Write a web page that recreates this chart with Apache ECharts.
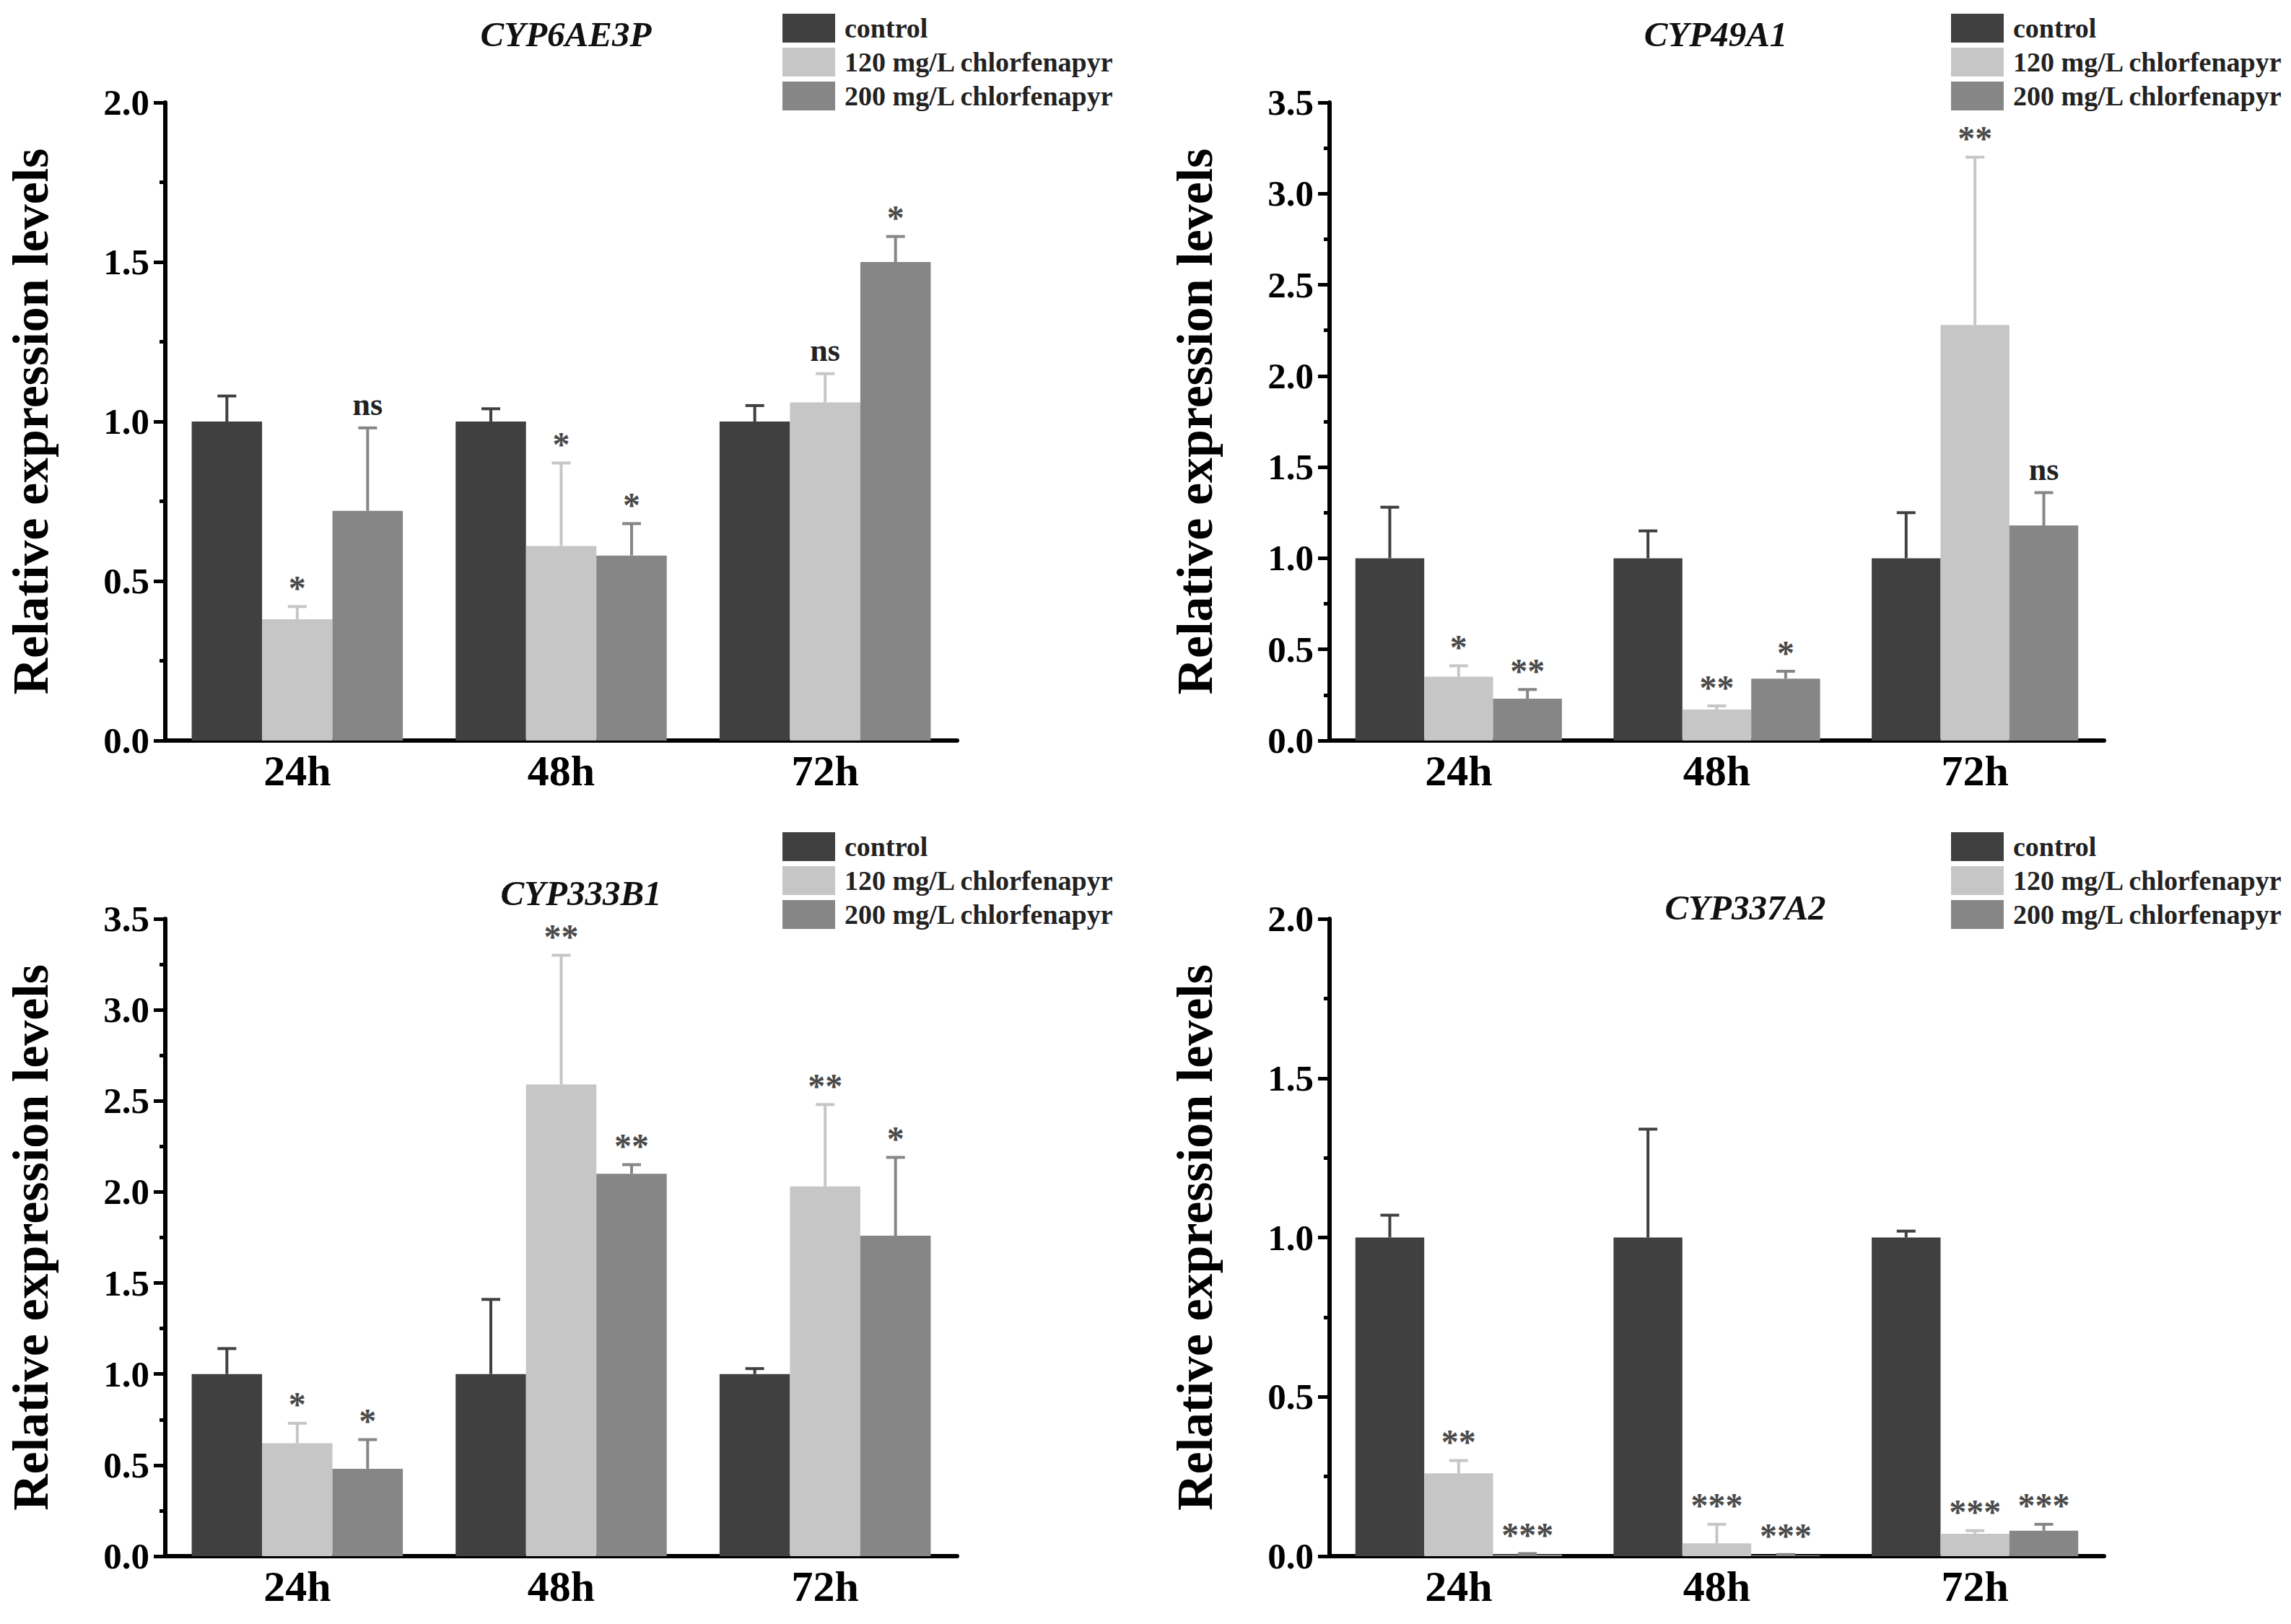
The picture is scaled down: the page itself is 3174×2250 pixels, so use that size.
<!DOCTYPE html>
<html>
<head>
<meta charset="utf-8">
<style>
html,body{margin:0;padding:0;background:#fff;}
#chart{width:3174px;height:2250px;}
</style>
<script src="https://cdn.jsdelivr.net/npm/echarts@6/dist/echarts.min.js"></script>
</head>
<body>
<div id="chart"></div>
<script>
const categories = ['24h', '48h', '72h'];
const seriesNames = ['control', '120 mg/L chlorfenapyr', '200 mg/L chlorfenapyr'];
const genes = ['CYP6AE3P', 'CYP49A1', 'CYP333B1', 'CYP337A2'];
const yMax = [2.0, 3.5, 3.5, 2.0];

// CYP6AE3P
const cyp6ae3pMean = [[1, 1, 1], [0.38, 0.61, 1.06], [0.72, 0.58, 1.50]];
const cyp6ae3pSd   = [[0.08, 0.04, 0.05], [0.04, 0.26, 0.09], [0.26, 0.10, 0.08]];
const cyp6ae3pSig  = [['', '', ''], ['*', '*', 'ns'], ['ns', '*', '*']];
// CYP49A1
const cyp49a1Mean = [[1, 1, 1], [0.35, 0.17, 2.28], [0.23, 0.34, 1.18]];
const cyp49a1Sd   = [[0.28, 0.15, 0.25], [0.06, 0.02, 0.92], [0.05, 0.04, 0.18]];
const cyp49a1Sig  = [['', '', ''], ['*', '**', '**'], ['**', '*', 'ns']];
// CYP333B1
const cyp333b1Mean = [[1, 1, 1], [0.62, 2.59, 2.03], [0.48, 2.10, 1.76]];
const cyp333b1Sd   = [[0.14, 0.41, 0.03], [0.11, 0.71, 0.45], [0.16, 0.05, 0.43]];
const cyp333b1Sig  = [['', '', ''], ['*', '**', '**'], ['*', '**', '*']];
// CYP337A2
const cyp337a2Mean = [[1, 1, 1], [0.26, 0.04, 0.07], [0.005, 0.003, 0.08]];
const cyp337a2Sd   = [[0.07, 0.34, 0.02], [0.04, 0.06, 0.01], [0.003, 0.002, 0.02]];
const cyp337a2Sig  = [['', '', ''], ['**', '***', '***'], ['***', '***', '***']];

const means = [cyp6ae3pMean, cyp49a1Mean, cyp333b1Mean, cyp337a2Mean];
const sds = [cyp6ae3pSd, cyp49a1Sd, cyp333b1Sd, cyp337a2Sd];
const sigs = [cyp6ae3pSig, cyp49a1Sig, cyp333b1Sig, cyp337a2Sig];

const colors = ['#404040', '#c6c6c6', '#868686'];
const FONT = '"Liberation Serif","Times New Roman",serif';

const grids = [
  {left: 229, top: 142, width: 1097, height: 884},
  {left: 1842, top: 142, width: 1073, height: 884},
  {left: 229, top: 1273, width: 1097, height: 883},
  {left: 1842, top: 1273, width: 1073, height: 883}
];
const titlePos = [[779, 18], [2372, 18], [800, 1208], [2413, 1228]];
const legendPos = [[1079, 14], [2698, 14], [1079, 1148], [2698, 1148]];

const BAR_FRAC = 0.8;

function barX(api, cat, k) {
  const band = api.size([1, 0])[0];
  const bw = band * BAR_FRAC / 3;
  const cx = api.coord([cat, 0])[0];
  return cx + (k - 1) * bw;
}

const option = {
  backgroundColor: '#fff',
  animation: false,
  grid: grids,
  title: genes.map((g, i) => ({
    text: g,
    left: titlePos[i][0],
    top: titlePos[i][1],
    textAlign: 'center',
    textStyle: {fontFamily: FONT, fontStyle: 'italic', fontWeight: 'bold', fontSize: 49, color: '#111'}
  })),
  legend: genes.map((g, i) => ({
    orient: 'vertical',
    left: legendPos[i][0],
    top: legendPos[i][1],
    itemWidth: 73,
    itemHeight: 40,
    itemGap: 7,
    icon: 'rect',
    selectedMode: false,
    data: seriesNames,
    textStyle: {fontFamily: FONT, fontWeight: 'bold', fontSize: 38, color: '#222', padding: [0, 0, 0, 8]}
  })),
  xAxis: genes.map((g, i) => ({
    type: 'category',
    gridIndex: i,
    data: categories,
    axisLine: {lineStyle: {color: '#000', width: 6}},
    axisTick: {show: false},
    axisLabel: {fontFamily: FONT, fontWeight: 'bold', fontSize: 60, color: '#000', margin: 12}
  })),
  yAxis: genes.map((g, i) => ({
    type: 'value',
    gridIndex: i,
    min: 0,
    max: yMax[i],
    interval: 0.5,
    name: 'Relative expression levels',
    nameLocation: 'middle',
    nameGap: 152,
    nameTextStyle: {fontFamily: FONT, fontWeight: 'bold', fontSize: 70, color: '#000'},
    axisLine: {show: true, lineStyle: {color: '#000', width: 6}},
    axisTick: {show: true, length: 16, lineStyle: {color: '#000', width: 5}},
    minorTick: {show: true, splitNumber: 2, length: 8, lineStyle: {color: '#000', width: 5}},
    splitLine: {show: false},
    axisLabel: {fontFamily: FONT, fontWeight: 'bold', fontSize: 51, color: '#000', margin: 22,
      formatter: v => v.toFixed(1)}
  })),
  series: []
};

genes.forEach((g, gi) => {
  seriesNames.forEach((name, k) => {
    option.series.push({
      type: 'bar',
      name: name,
      xAxisIndex: gi,
      yAxisIndex: gi,
      barGap: '0%',
      barCategoryGap: '20%',
      itemStyle: {color: colors[k]},
      data: means[gi][k]
    });
  });
  // error bars
  const errData = [];
  seriesNames.forEach((name, k) => {
    categories.forEach((c, ci) => {
      errData.push([ci, means[gi][k][ci], sds[gi][k][ci], k]);
    });
  });
  option.series.push({
    type: 'custom',
    xAxisIndex: gi,
    yAxisIndex: gi,
    z: 3,
    silent: true,
    data: errData,
    renderItem: function (params, api) {
      const cat = api.value(0), m = api.value(1), sd = api.value(2), k = api.value(3);
      const x = barX(api, cat, k);
      const y0 = api.coord([cat, m])[1];
      const y1 = api.coord([cat, m + sd])[1];
      const cap = 13;
      const st = {stroke: colors[k], lineWidth: 4};
      return {
        type: 'group',
        children: [
          {type: 'line', shape: {x1: x, y1: y0, x2: x, y2: y1}, style: st},
          {type: 'line', shape: {x1: x - cap, y1: y1, x2: x + cap, y2: y1}, style: st}
        ]
      };
    }
  });
  // significance labels
  const sigData = [];
  const sigText = [];
  [1, 2].forEach(k => {
    categories.forEach((c, ci) => {
      sigData.push([ci, means[gi][k][ci] + sds[gi][k][ci], k]);
      sigText.push(sigs[gi][k][ci]);
    });
  });
  option.series.push({
    type: 'custom',
    xAxisIndex: gi,
    yAxisIndex: gi,
    z: 4,
    silent: true,
    data: sigData,
    renderItem: function (params, api) {
      const cat = api.value(0), top = api.value(1), k = api.value(2);
      const x = barX(api, cat, k);
      const y = api.coord([cat, top])[1];
      const t = sigText[params.dataIndex];
      const isNs = t === 'ns';
      return {
        type: 'text',
        style: {
          text: t,
          x: x,
          y: y - (isNs ? 10 : 2),
          align: 'center',
          verticalAlign: 'bottom',
          font: (isNs ? 'bold 44px ' : 'bold 48px ') + FONT,
          fill: isNs ? '#222' : '#4a4a4a'
        }
      };
    }
  });
});

const chart = echarts.init(document.getElementById('chart'), null, {renderer: 'svg'});
chart.setOption(option);
</script>
</body>
</html>
